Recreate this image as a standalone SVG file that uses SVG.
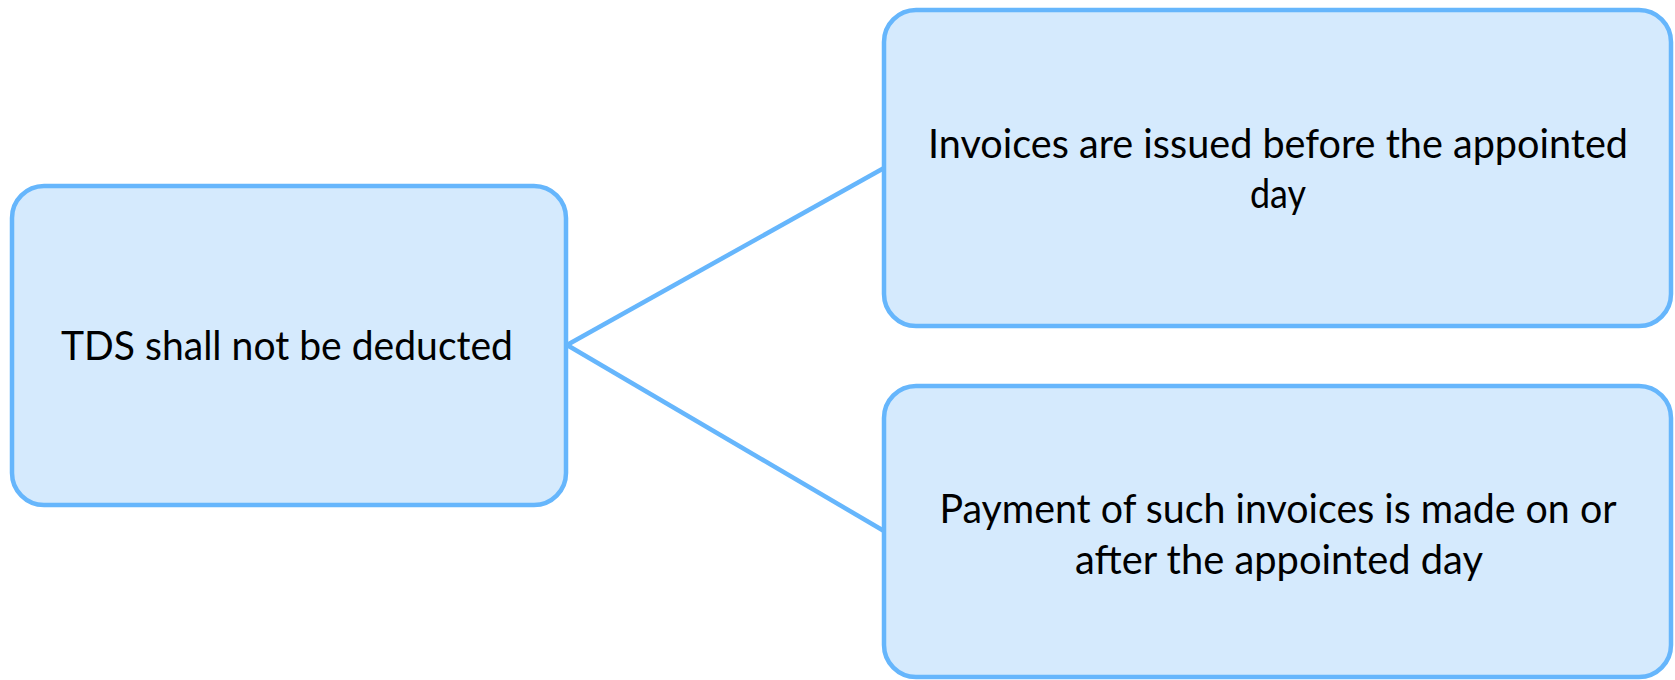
<svg xmlns="http://www.w3.org/2000/svg" width="1675" height="680" viewBox="0 0 1675 680">
<style>
.box{fill:#d5eafd;stroke:#66b6fc;stroke-width:4.5}
.conn{stroke:#66b6fc;stroke-width:4.5;fill:none}
.t{font-family:Lato,"Open Sans","Liberation Sans",sans-serif;font-size:40px;fill:#000;text-anchor:middle}
</style>
<rect width="1675" height="680" fill="#ffffff"/>
<g id="connectors">
<line class="conn" x1="567" y1="345" x2="884" y2="168"/>
<line class="conn" x1="567" y1="345" x2="884" y2="531"/>
</g>
<g id="node-tds">
<rect class="box" x="12" y="186" width="554" height="319" rx="32"/>
<text class="t" x="287" y="360" textLength="452" lengthAdjust="spacingAndGlyphs">TDS shall not be deducted</text>
</g>
<g id="node-invoices">
<rect class="box" x="884" y="10" width="787" height="316" rx="32"/>
<text class="t" x="1278" y="158" textLength="700" lengthAdjust="spacingAndGlyphs">Invoices are issued before the appointed</text>
<text class="t" x="1278" y="208" textLength="56" lengthAdjust="spacingAndGlyphs">day</text>
</g>
<g id="node-payment">
<rect class="box" x="884" y="386" width="787" height="291" rx="32"/>
<text class="t" x="1278" y="523" textLength="677" lengthAdjust="spacingAndGlyphs">Payment of such invoices is made on or</text>
<text class="t" x="1279" y="574" textLength="408" lengthAdjust="spacingAndGlyphs">after the appointed day</text>
</g>
</svg>
